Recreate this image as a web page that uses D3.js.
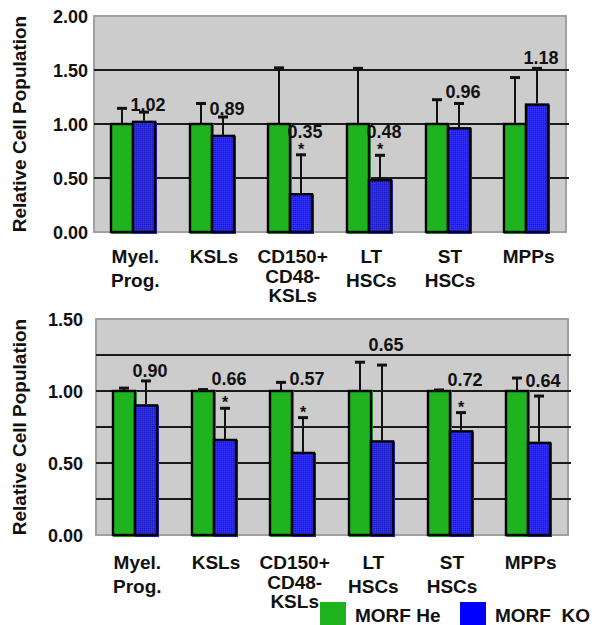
<!DOCTYPE html>
<html>
<head>
<meta charset="utf-8">
<script src="https://cdn.jsdelivr.net/npm/d3@7"></script>
<style>
  body { margin: 0; background: #fff; }
  svg text { font-family: "Liberation Sans", Arial, sans-serif; font-weight: bold; fill: #111; }
</style>
</head>
<body>
<div id="chart"></div>
<script>
const categories = [["Myel.", "Prog."], ["KSLs"], ["CD150+", "CD48-", "KSLs"], ["LT", "HSCs"], ["ST", "HSCs"], ["MPPs"]];
const series = ["MORF He", "MORF  KO"];

// top panel
const topHe = [1, 1, 1, 1, 1, 1];
const topHeErr = [1.145, 1.19, 1.52, 1.515, 1.225, 1.43];
const topKo = [1.02, 0.89, 0.35, 0.48, 0.96, 1.18];
const topKoErr = [1.11, 1.065, 0.715, 0.71, 1.19, 1.515];
const topStar = [false, false, true, true, false, false];
const topLabelAt = [1.12, 1.08, 0.875, 0.875, 1.24, 1.56];
const topTicks = [0, 0.5, 1, 1.5, 2];
const topGrid = [0.5, 1, 1.5];

// bottom panel
const botHe = [1, 1, 1, 1, 1, 1];
const botHeErr = [1.02, 1.01, 1.06, 1.20, 1.007, 1.09];
const botKo = [0.90, 0.66, 0.57, 0.65, 0.72, 0.64];
const botKoErr = [1.07, 0.88, 0.815, 1.18, 0.85, 0.965];
const botStar = [false, true, true, false, true, false];
const botLabelAt = [1.10, 1.04, 1.04, 1.28, 1.035, 1.03];
const botTicks = [0, 0.5, 1, 1.5];
const botGrid = [0.25, 0.5, 0.75, 1, 1.25];

const green = "#1fb31f";
const blue = "#0000ff";

const svg = d3.select("#chart")
    .append("svg")
    .attr("width", 599)
    .attr("height", 625);

// dithered blue like the original bars
const pat = svg.append("defs").append("pattern")
    .attr("id", "blueDots")
    .attr("width", 2).attr("height", 2)
    .attr("patternUnits", "userSpaceOnUse");
pat.append("rect").attr("width", 2).attr("height", 2).attr("fill", "#2a2aee");
pat.append("rect").attr("width", 1).attr("height", 1).attr("fill", "#1818b0");
pat.append("rect").attr("x", 1).attr("y", 1).attr("width", 1).attr("height", 1).attr("fill", "#3636ff");

function panel(p) {
    const g = svg.append("g");

    const x0 = d3.scaleBand()
        .domain(d3.range(categories.length))
        .range([p.left, p.right]);
    const barW = 22;
    const x1 = d3.scaleBand()
        .domain(series)
        .range([x0.bandwidth() / 2 - barW, x0.bandwidth() / 2 + barW])
        .round(true);
    const y = d3.scaleLinear()
        .domain([0, p.max])
        .range([p.bottom, p.top]);

    // plot area
    g.append("rect")
        .attr("x", p.left).attr("y", y(p.max))
        .attr("width", p.right - p.left).attr("height", y(0) - y(p.max))
        .attr("fill", "#cccccc")
        .attr("stroke", "#a0a0a0")
        .attr("stroke-width", 2);

    g.selectAll(".grid")
        .data(p.grid)
        .enter()
        .append("line")
            .attr("x1", p.left).attr("x2", p.right + 3)
            .attr("y1", d => Math.round(y(d))).attr("y2", d => Math.round(y(d)))
            .attr("stroke", "#1a1a1a")
            .attr("stroke-width", 2);

    // y tick labels
    const yAxis = g.append("g")
        .attr("transform", `translate(${p.tickX},0)`)
        .call(d3.axisLeft(y).tickValues(p.ticks).tickSize(0).tickPadding(0).tickFormat(d3.format(".2f")));
    yAxis.select(".domain").remove();
    yAxis.selectAll("text")
        .attr("font-size", 18)
        .attr("dy", "0.36em")
        .style("font-family", "'Liberation Sans', Arial, sans-serif")
        .style("font-weight", "bold");

    g.append("text")
        .attr("transform", "rotate(-90)")
        .attr("x", -(p.top + p.bottom) / 2)
        .attr("y", 26)
        .attr("text-anchor", "middle")
        .attr("font-size", 19)
        .text("Relative Cell Population");

    const rows = categories.map((c, i) => ({
        i: i,
        he: p.he[i], heErr: p.heErr[i],
        ko: p.ko[i], koErr: p.koErr[i],
        star: p.star[i], labelAt: p.labelAt[i]
    }));

    const groups = g.selectAll(".grp")
        .data(rows)
        .enter()
        .append("g")
        .attr("transform", d => `translate(${Math.round(x0(d.i))},0)`);

    const bars = [
        {key: series[0], v: "he", e: "heErr", fill: green},
        {key: series[1], v: "ko", e: "koErr", fill: "url(#blueDots)"}
    ];

    bars.forEach(b => {
        groups.append("rect")
            .attr("x", x1(b.key))
            .attr("y", d => y(d[b.v]))
            .attr("width", x1.bandwidth() + 2)
            .attr("height", d => y(0) - y(d[b.v]) + 2)
            .attr("fill", b.fill);
        groups.append("rect")
            .attr("x", x1(b.key))
            .attr("y", d => y(d[b.v]))
            .attr("width", x1.bandwidth())
            .attr("height", d => y(0) - y(d[b.v]))
            .attr("fill", "none")
            .attr("stroke", "#000")
            .attr("stroke-width", 2.4);
    });

    bars.forEach(b => {
        const cx = x1(b.key) + x1.bandwidth() / 2;
        groups.append("line")
            .attr("x1", cx).attr("x2", cx)
            .attr("y1", d => y(d[b.v]) - 1)
            .attr("y2", d => y(d[b.e]))
            .attr("stroke", "#111")
            .attr("stroke-width", 2);
        groups.append("line")
            .attr("x1", cx - 5).attr("x2", cx + 5)
            .attr("y1", d => y(d[b.e])).attr("y2", d => y(d[b.e]))
            .attr("stroke", "#111")
            .attr("stroke-width", 3);
    });

    const koX = x1(series[1]) + x1.bandwidth() / 2;

    groups.append("text")
        .attr("x", koX + 4)
        .attr("y", d => y(d.labelAt))
        .attr("text-anchor", "middle")
        .attr("font-size", 18)
        .text(d => d.ko.toFixed(2));

    groups.filter(d => d.star)
        .append("text")
        .attr("x", koX)
        .attr("y", d => y(d.koErr))
        .attr("text-anchor", "middle")
        .attr("font-size", 16)
        .text("*");

    // category labels
    const xAxis = g.append("g")
        .attr("transform", `translate(0,${p.bottom})`)
        .call(d3.axisBottom(x0).tickSize(0).tickFormat(""));
    xAxis.select(".domain").remove();
    xAxis.selectAll(".tick").each(function(i) {
        const lines = categories[i];
        const step = lines.length > 2 ? 19.5 : 24;
        const t = d3.select(this).append("text")
            .attr("text-anchor", "middle")
            .attr("font-size", 19)
            .attr("x", 2)
            .attr("y", p.catY);
        lines.forEach((s, k) => {
            t.append("tspan")
                .attr("x", 2)
                .attr("dy", k === 0 ? 0 : step)
                .text(s);
        });
    });
}

panel({left: 94, right: 566, top: 16, bottom: 232, max: 2, ticks: topTicks, grid: topGrid, tickX: 88, catY: 31,
    he: topHe, heErr: topHeErr, ko: topKo, koErr: topKoErr, star: topStar, labelAt: topLabelAt});
panel({left: 96, right: 568, top: 319, bottom: 535, max: 1.5, ticks: botTicks, grid: botGrid, tickX: 83, catY: 34,
    he: botHe, heErr: botHeErr, ko: botKo, koErr: botKoErr, star: botStar, labelAt: botLabelAt});

// legend
const legend = svg.append("g");
const legX = [320, 460];
series.forEach((s, i) => {
    legend.append("rect")
        .attr("x", legX[i]).attr("y", 602)
        .attr("width", 26).attr("height", 23)
        .attr("fill", i === 0 ? green : blue);
    legend.append("text")
        .attr("x", legX[i] + 35).attr("y", 622)
        .attr("font-size", 19)
        .attr("xml:space", "preserve")
        .style("white-space", "pre")
        .text(s);
});
</script>
</body>
</html>
